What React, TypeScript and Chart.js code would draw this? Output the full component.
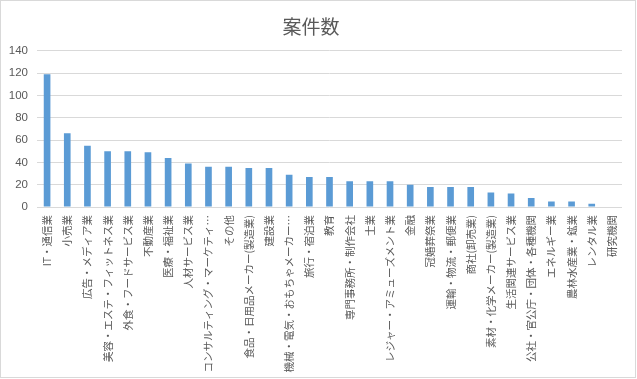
import React, { useEffect, useRef } from "react";
import { Chart, registerables } from "chart.js";

Chart.register(...registerables);

const TITLE = "案件数";

const categories: string[] = [
  "IT・通信業",
  "小売業",
  "広告・メディア業",
  "美容・エステ・フィットネス業",
  "外食・フードサービス業",
  "不動産業",
  "医療・福祉業",
  "人材サービス業",
  "コンサルティング・マーケティ…",
  "その他",
  "食品・日用品メーカー(製造業)",
  "建設業",
  "機械・電気・おもちゃメーカー…",
  "旅行・宿泊業",
  "教育",
  "専門事務所・制作会社",
  "士業",
  "レジャー・アミューズメント業",
  "金融",
  "冠婚葬祭業",
  "運輸・物流・郵便業",
  "商社(卸売業)",
  "素材・化学メーカー(製造業)",
  "生活関連サービス業",
  "公社・官公庁・団体・各種機関",
  "エネルギー業",
  "農林水産業・鉱業",
  "レンタル業",
  "研究機関",
];

const counts: number[] = [
  119, 66, 55, 50, 50, 49, 44, 39, 36, 36, 35, 35, 29, 27, 27, 23, 23, 23, 20,
  18, 18, 18, 13, 12, 8, 5, 5, 3, 0,
];

const yMin = 0;
const yMax = 140;
const yStep = 20;

const frame = {
  id: "frame",
  beforeDraw(chart: any) {
    const { ctx, width, height } = chart;
    ctx.save();
    ctx.fillStyle = "#ffffff";
    ctx.fillRect(0, 0, width, height);
    ctx.restore();
  },
  afterDraw(chart: any) {
    const { ctx, width, height } = chart;
    ctx.save();
    ctx.strokeStyle = "#d9d9d9";
    ctx.lineWidth = 1;
    ctx.strokeRect(0.5, 0.5, width - 2, height - 2);
    ctx.restore();
  },
};

export default function App() {
  const ref = useRef<HTMLCanvasElement | null>(null);

  useEffect(() => {
    if (!ref.current) return;
    const chart = new Chart(ref.current, {
      type: "bar",
      data: {
        labels: categories,
        datasets: [
          {
            label: TITLE,
            data: counts,
            backgroundColor: "#5b9bd5",
            borderWidth: 0,
            categoryPercentage: 1,
            barPercentage: 0.33,
          },
        ],
      },
      options: {
        responsive: false,
        animation: false,
        devicePixelRatio: 1,
        layout: { padding: { left: 0, right: 15, top: 0, bottom: 0 } },
        plugins: {
          legend: { display: false },
          tooltip: { enabled: false },
          title: {
            display: true,
            text: TITLE,
            color: "#595959",
            font: { family: "'Noto Sans CJK JP', sans-serif", size: 19, weight: "normal" },
            padding: { top: 15, bottom: 13 },
          },
        },
        scales: {
          x: {
            grid: { display: false, drawTicks: false },
            border: { display: false },
            ticks: {
              autoSkip: false,
              maxRotation: 90,
              minRotation: 90,
              padding: 8,
              color: "#595959",
              font: { family: "'Noto Sans CJK JP', sans-serif", size: 10.5 },
            },
            afterFit(scale: any) {
              scale.height = 172;
            },
          },
          y: {
            min: yMin,
            max: yMax,
            ticks: {
              stepSize: yStep,
              padding: 9,
              color: "#595959",
              font: { family: "'Liberation Sans', Arial, sans-serif", size: 11.5 },
            },
            grid: { color: "#d9d9d9", lineWidth: 1, drawTicks: false },
            border: { display: false },
            afterFit(scale: any) {
              scale.width = 37;
            },
          },
        },
      },
      plugins: [frame],
    });
    return () => chart.destroy();
  }, []);

  return (
    <div style={{ position: "absolute", left: 0, top: 0, width: 637, height: 379 }}>
      <canvas ref={ref} width={637} height={379} style={{ display: "block" }} />
    </div>
  );
}
